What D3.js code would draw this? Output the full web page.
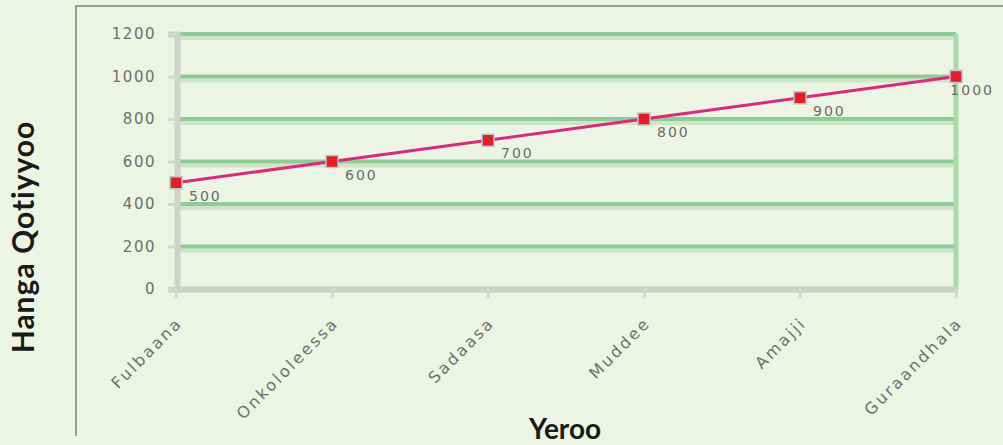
<!doctype html>
<html lang="en">
<head>
  <meta charset="utf-8">
  <title>Hanga Qotiyyoo</title>
  <script src="https://d3js.org/d3.v7.min.js"></script>
  <style>
    body { margin: 0; background: #ecf4e4; }
    svg { display: block; }
  </style>
</head>
<body>
  <script type="text/javascript">
    var months = ["Fulbaana", "Onkololeessa", "Sadaasa", "Muddee", "Amajji", "Guraandhala"];
    var values = [500, 600, 700, 800, 900, 1000];
    var yTicks = [0, 200, 400, 600, 800, 1000, 1200];

    var width = 1003;
    var height = 445;

    var svg = d3.select("body")
      .append("svg")
      .attr("width", width)
      .attr("height", height);

    // outer frame (gray lines top and left)
    svg.append("rect")
      .attr("x", 0).attr("y", 0)
      .attr("width", 55).attr("height", 25)
      .attr("fill", "#eef5e8");
    svg.append("path")
      .attr("d", "M76,436 V6 H1003")
      .attr("fill", "none")
      .attr("stroke", "#9a9f92")
      .attr("stroke-width", 2);

    var x = d3.scalePoint()
      .domain(months)
      .range([176, 956]);

    var y = d3.scaleLinear()
      .domain([0, 1200])
      .range([289, 34]);

    // gridlines: darker stroke with a pale band under it
    var grid = svg.append("g");
    grid.selectAll("line.band")
      .data(yTicks.filter(d => d > 0))
      .join("line")
      .attr("class", "band")
      .attr("x1", 176)
      .attr("x2", 956)
      .attr("y1", d => y(d) + 4)
      .attr("y2", d => y(d) + 4)
      .attr("stroke", "#cfe6c6")
      .attr("stroke-width", 4);
    grid.selectAll("line.main")
      .data(yTicks.filter(d => d > 0))
      .join("line")
      .attr("class", "main")
      .attr("x1", 176)
      .attr("x2", 956)
      .attr("y1", d => y(d))
      .attr("y2", d => y(d))
      .attr("stroke", "#8fcb97")
      .attr("stroke-width", 4);

    // right border
    svg.append("line")
      .attr("x1", 956).attr("x2", 956)
      .attr("y1", y(1200)).attr("y2", y(0))
      .attr("stroke", "#acd9aa")
      .attr("stroke-width", 5);

    // y axis
    var yAxis = d3.axisLeft(y)
      .tickValues(yTicks)
      .tickFormat(d3.format("d"))
      .tickSize(9)
      .tickPadding(12);

    var yAxisGroup = svg.append("g")
      .attr("transform", "translate(177,0)")
      .call(yAxis);
    yAxisGroup.select(".domain").attr("stroke", "#cfd3c7").attr("stroke-width", 6);
    yAxisGroup.selectAll(".tick line").attr("stroke", "#d5d8ce").attr("stroke-width", 3);
    yAxisGroup.selectAll("text")
      .attr("fill", "#6e706b")
      .style("font-family", "DejaVu Sans")
      .style("font-size", "15px")
      .style("letter-spacing", "1.5px");

    // x axis
    var xAxis = d3.axisBottom(x)
      .tickSize(9)
      .tickSizeOuter(0);

    var xAxisGroup = svg.append("g")
      .attr("transform", "translate(0,289)")
      .call(xAxis);
    xAxisGroup.select(".domain").attr("stroke", "#cbd0c3").attr("stroke-width", 6);
    xAxisGroup.selectAll(".tick line").attr("stroke", "#d5d8ce").attr("stroke-width", 3);
    xAxisGroup.selectAll("text")
      .attr("fill", "#6e706b")
      .style("font-family", "DejaVu Sans")
      .style("font-size", "16px")
      .style("letter-spacing", "2.5px")
      .attr("text-anchor", "end")
      .attr("transform", "translate(3,31) rotate(-45)")
      .attr("y", 0)
      .attr("dy", "0.35em");

    // line
    var line = d3.line()
      .x((d, i) => x(months[i]))
      .y(d => y(d));

    svg.append("path")
      .datum(values)
      .attr("fill", "none")
      .attr("stroke", "#d92a7c")
      .attr("stroke-width", 3)
      .attr("d", line);

    // markers
    svg.append("g")
      .selectAll("rect")
      .data(values)
      .join("rect")
      .attr("x", (d, i) => x(months[i]) - 6)
      .attr("y", d => y(d) - 6)
      .attr("width", 12)
      .attr("height", 12)
      .attr("fill", "#e41d27")
      .attr("stroke", "#b9c6c8")
      .attr("stroke-width", 1.5);

    // data labels (kept inside the frame at the right edge)
    svg.append("g")
      .selectAll("text")
      .data(values)
      .join("text")
      .attr("y", d => y(d) + 18)
      .attr("fill", "#6a6c68")
      .style("font-family", "DejaVu Sans")
      .style("font-size", "14px")
      .style("letter-spacing", "2px")
      .text(d => d)
      .attr("x", function(d, i) {
        var w = this.getComputedTextLength();
        return Math.min(x(months[i]) + 13, 994 - w);
      });

    // axis titles
    svg.append("text")
      .attr("transform", "translate(34,237) rotate(-90)")
      .attr("text-anchor", "middle")
      .attr("fill", "#1a1a1a")
      .style("font-family", "Lato")
      .style("font-weight", "bold")
      .style("font-size", "30px")
      .style("letter-spacing", "1px")
      .text("Hanga  Qotiyyoo");

    svg.append("text")
      .attr("x", 565)
      .attr("y", 439)
      .attr("text-anchor", "middle")
      .attr("fill", "#1a1a1a")
      .style("font-family", "Lato")
      .style("font-weight", "bold")
      .style("font-size", "28px")
      .text("Yeroo");
  </script>
</body>
</html>
